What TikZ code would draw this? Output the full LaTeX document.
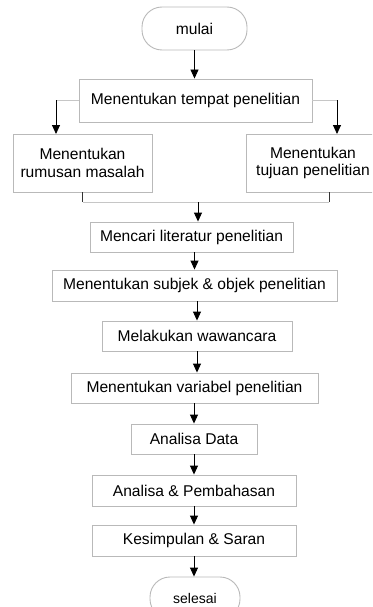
\documentclass[tikz,border=0pt]{standalone}
\usepackage{fontspec}
\setmainfont{Liberation Sans}
\usetikzlibrary{arrows.meta}
\begin{document}
\begin{tikzpicture}[x=1pt,y=-1pt,
  box/.style={draw=gray!55,line width=0.9pt,inner sep=0pt,align=center,font=\fontsize{15.6}{17.5}\selectfont,fill=white},
  term/.style={box,rounded corners=20pt},
  arr/.style={draw=black,line width=0.9pt,-{Triangle[width=8pt,length=9pt]}},
  conn/.style={draw=gray!45,line width=0.9pt},
  vline/.style={draw=black!80,line width=0.9pt}]
\useasboundingbox (0,0) rectangle (372,607);
\clip (0,0) rectangle (372,607);
\node[term,minimum width=105pt,minimum height=43pt] (mulai) at (194.5,28.5) {mulai};
\node[box,minimum width=233pt,minimum height=43pt] (tempat) at (195.5,100.5) {Menentukan tempat penelitian};
\node[box,minimum width=139pt,minimum height=58pt] (left) at (82.5,163) {Menentukan\\rumusan masalah};
\node[box,minimum width=134pt,minimum height=58pt] (right) at (313,163) {Menentukan\\tujuan penelitian};
\node[box,minimum width=203pt,minimum height=30pt] (mencari) at (191.5,237) {Mencari literatur penelitian};
\node[box,minimum width=285pt,minimum height=31pt] (subjek) at (194.5,285.5) {Menentukan subjek \& objek penelitian};
\node[box,minimum width=190pt,minimum height=30pt] (wawan) at (197,336) {Melakukan wawancara};
\node[box,minimum width=247pt,minimum height=30pt] (variabel) at (194.5,388) {Menentukan variabel penelitian};
\node[box,minimum width=126pt,minimum height=30pt] (data) at (194,439) {Analisa Data};
\node[box,minimum width=204pt,minimum height=31pt] (bahas) at (194,490.5) {Analisa \& Pembahasan};
\node[box,minimum width=204pt,minimum height=31pt] (simpul) at (194,540.5) {Kesimpulan \& Saran};
\node[term,minimum width=90pt,minimum height=42pt,font=\fontsize{14}{16}\selectfont] (selesai) at (195,598) {selesai};
% connectors
\draw[arr] (mulai.south) -- (mulai.south |- tempat.north);
\coordinate (lx) at (56,134);
\coordinate (rx) at (337,134);
\draw[conn] (tempat.west) -| (lx |- tempat.west);
\draw[arr] (lx |- tempat.west) -- (lx);
\draw[conn] (tempat.east) -| (rx |- tempat.east);
\draw[arr] (rx |- tempat.east) -- (rx);
\coordinate (mr) at (329,202);
\coordinate (merge) at (198,202);
\draw[vline] (left.south) -- (left.south |- mr);
\draw[conn] (left.south |- mr) -- (mr);
\draw[vline] (mr) -- (mr |- right.south);
\draw[arr] (merge) -- (merge |- mencari.north);
\draw[arr] (subjek.north |- mencari.south) -- (subjek.north);
\draw[arr] (wawan.north |- subjek.south) -- (wawan.north);
\draw[arr] (wawan.south) -- (wawan.south |- variabel.north);
\draw[arr] (data.north |- variabel.south) -- (data.north);
\draw[arr] (data.south) -- (data.south |- bahas.north);
\draw[arr] (bahas.south) -- (bahas.south |- simpul.north);
\draw[arr] (simpul.south) -- (simpul.south |- selesai.north);
\end{tikzpicture}
\end{document}
